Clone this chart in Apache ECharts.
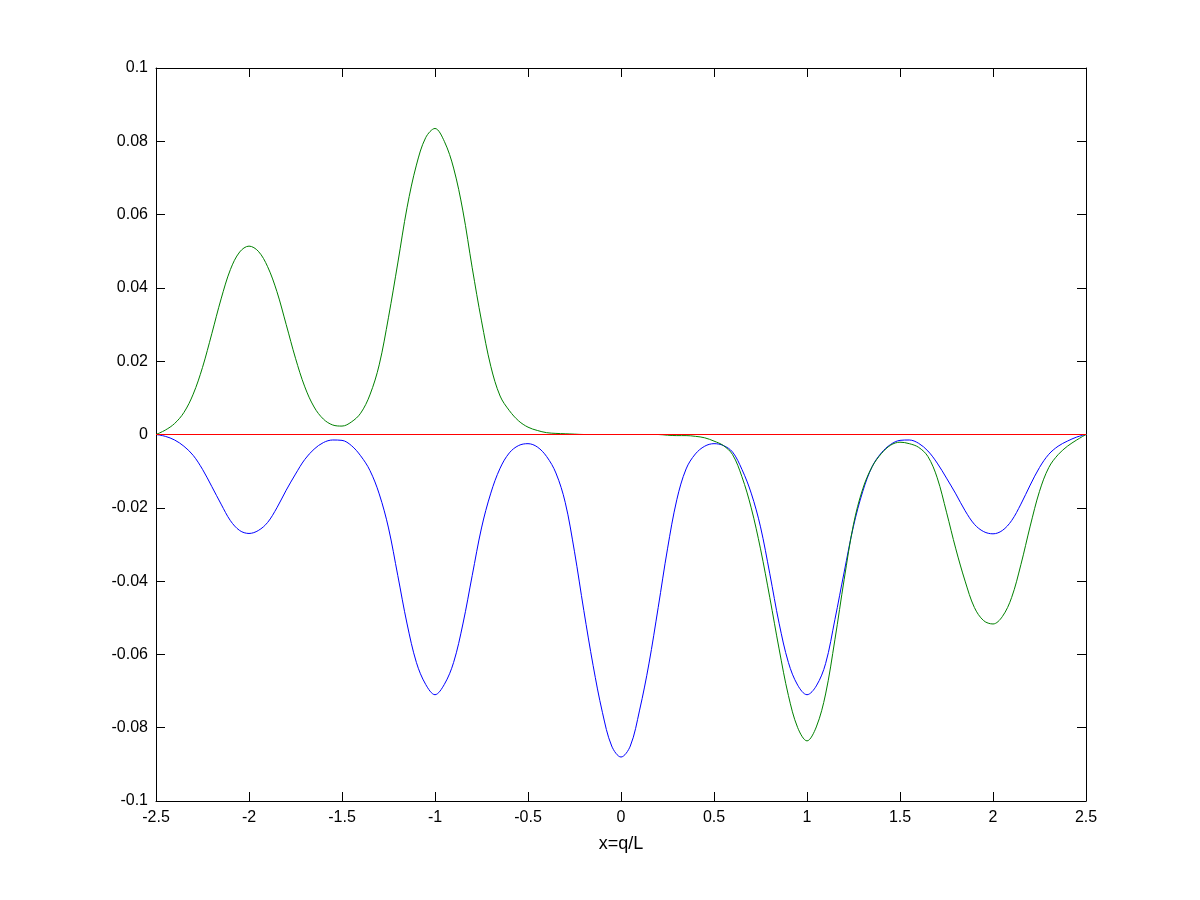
<!DOCTYPE html>
<html>
<head>
<meta charset="utf-8">
<script src="https://cdn.jsdelivr.net/npm/echarts@6/dist/echarts.min.js"></script>
<style>
html,body{margin:0;padding:0;background:#fff;}
#chart{width:1200px;height:900px;}
</style>
</head>
<body>
<div id="chart"></div>
<script>
// x positions (q/L)
const xs = [
-2.50,-2.45,-2.40,-2.35,-2.30,-2.25,-2.20,-2.15,-2.10,-2.05,
-2.00,-1.95,-1.90,-1.85,-1.80,-1.75,-1.70,-1.65,-1.60,-1.55,
-1.50,-1.45,-1.40,-1.35,-1.30,-1.25,-1.20,-1.15,-1.10,-1.05,
-1.00,-0.95,-0.90,-0.85,-0.80,-0.75,-0.70,-0.65,-0.60,-0.55,
-0.50,-0.45,-0.40,-0.35,-0.30,-0.25,-0.20,-0.15,-0.10,-0.05,
 0.00, 0.05, 0.10, 0.15, 0.20, 0.25, 0.30, 0.35, 0.40, 0.45,
 0.50, 0.55, 0.60, 0.65, 0.70, 0.75, 0.80, 0.85, 0.90, 0.95,
 1.00, 1.05, 1.10, 1.15, 1.20, 1.25, 1.30, 1.35, 1.40, 1.45,
 1.50, 1.55, 1.60, 1.65, 1.70, 1.75, 1.80, 1.85, 1.90, 1.95,
 2.00, 2.05, 2.10, 2.15, 2.20, 2.25, 2.30, 2.35, 2.40, 2.45,
 2.50
];

// blue curve
const blueY = [
 0.0000,-0.0005,-0.0015,-0.0032,-0.0057,-0.0095,-0.0142,-0.0190,-0.0235,-0.0262,
-0.0270,-0.0262,-0.0240,-0.0200,-0.0152,-0.0108,-0.0068,-0.0040,-0.0022,-0.0015,
-0.0016,-0.0030,-0.0058,-0.0098,-0.0162,-0.0255,-0.0385,-0.0517,-0.0622,-0.0682,
-0.0710,-0.0682,-0.0622,-0.0517,-0.0385,-0.0255,-0.0160,-0.0092,-0.0050,-0.0030,
-0.0025,-0.0034,-0.0060,-0.0105,-0.0185,-0.0320,-0.0480,-0.0630,-0.0758,-0.0850,
-0.0880,-0.0850,-0.0752,-0.0626,-0.0472,-0.0312,-0.0178,-0.0094,-0.0053,-0.0032,
-0.0025,-0.0030,-0.0048,-0.0095,-0.0160,-0.0252,-0.0380,-0.0515,-0.0622,-0.0684,
-0.0710,-0.0686,-0.0625,-0.0505,-0.0375,-0.0250,-0.0155,-0.0088,-0.0050,-0.0027,
-0.0016,-0.0015,-0.0024,-0.0045,-0.0078,-0.0119,-0.0162,-0.0208,-0.0245,-0.0265,
-0.0271,-0.0262,-0.0235,-0.0190,-0.0138,-0.0090,-0.0054,-0.0032,-0.0018,-0.0007,
 0.0000
];

// green curve
const greenY = [
 0.0000, 0.0012, 0.0030, 0.0060, 0.0110, 0.0183, 0.0275, 0.0370, 0.0450, 0.0498,
 0.0514, 0.0500, 0.0458, 0.0390, 0.0300, 0.0208, 0.0130, 0.0075, 0.0042, 0.0026,
 0.0023, 0.0034, 0.0058, 0.0108, 0.0190, 0.0320, 0.0468, 0.0620, 0.0735, 0.0810,
 0.0835, 0.0800, 0.0727, 0.0610, 0.0455, 0.0310, 0.0186, 0.0105, 0.0065, 0.0037,
 0.0020, 0.0011, 0.0005, 0.0003, 0.0002, 0.0001, 0.0000, 0.0000, 0.0000, 0.0000,
 0.0000, 0.0000, 0.0000, 0.0000, 0.0000,-0.0002,-0.0003,-0.0003,-0.0005,-0.0009,
-0.0018,-0.0030,-0.0055,-0.0115,-0.0200,-0.0312,-0.0445,-0.0585,-0.0712,-0.0800,
-0.0836,-0.0798,-0.0708,-0.0560,-0.0395,-0.0245,-0.0148,-0.0088,-0.0052,-0.0029,
-0.0021,-0.0025,-0.0035,-0.0060,-0.0118,-0.0212,-0.0312,-0.0400,-0.0472,-0.0508,
-0.0517,-0.0497,-0.0445,-0.0355,-0.0250,-0.0155,-0.0090,-0.0055,-0.0032,-0.0015,
 0.0000
];

// red curve
const redX = [-2.5, 2.5];
const redY = [0, 0];

const xTicks = { min: -2.5, max: 2.5, interval: 0.5 };
const yTicks = { min: -0.1, max: 0.1, interval: 0.02 };
const xName = 'x=q/L';

const FONT = "'Liberation Sans', Arial, Helvetica, sans-serif";
const pair = (xa, ya) => xa.map((x, i) => [x, ya[i]]);

const chart = echarts.init(document.getElementById('chart'), null, {renderer: 'canvas'});
const axisLine = { show: true, onZero: false, lineStyle: { color: '#000', width: 1 } };
const tick = { show: true, inside: true, length: 9, lineStyle: { color: '#000', width: 1 } };

chart.setOption({
  animation: false,
  backgroundColor: '#fff',
  grid: { left: 156, right: 114, top: 68, bottom: 99, containLabel: false },
  xAxis: [
    {
      type: 'value', position: 'bottom',
      min: xTicks.min, max: xTicks.max, interval: xTicks.interval,
      axisLine: axisLine, axisTick: tick, splitLine: { show: false },
      axisLabel: { color: '#000', fontSize: 16, fontFamily: FONT, margin: 9 },
      name: xName, nameLocation: 'middle', nameGap: 34,
      nameTextStyle: { color: '#000', fontSize: 18, fontFamily: FONT }
    },
    {
      type: 'value', position: 'top',
      min: xTicks.min, max: xTicks.max, interval: xTicks.interval,
      axisLine: axisLine, axisTick: tick, splitLine: { show: false },
      axisLabel: { show: false }
    }
  ],
  yAxis: [
    {
      type: 'value', position: 'left',
      min: yTicks.min, max: yTicks.max, interval: yTicks.interval,
      axisLine: axisLine, axisTick: tick, splitLine: { show: false },
      axisLabel: { color: '#000', fontSize: 16, fontFamily: FONT, margin: 8 }
    },
    {
      type: 'value', position: 'right',
      min: yTicks.min, max: yTicks.max, interval: yTicks.interval,
      axisLine: axisLine, axisTick: tick, splitLine: { show: false },
      axisLabel: { show: false }
    }
  ],
  series: [
    {
      type: 'line', data: pair(xs, blueY), xAxisIndex: 0, yAxisIndex: 0,
      showSymbol: false, smooth: 0.35, lineStyle: { color: '#0000ff', width: 1 },
      itemStyle: { color: '#0000ff' }
    },
    {
      type: 'line', data: pair(xs, greenY), xAxisIndex: 0, yAxisIndex: 0,
      showSymbol: false, smooth: 0.35, lineStyle: { color: '#008000', width: 1 },
      itemStyle: { color: '#008000' }
    },
    {
      type: 'line', data: pair(redX, redY), xAxisIndex: 0, yAxisIndex: 0,
      showSymbol: false, lineStyle: { color: '#ff0000', width: 1 },
      itemStyle: { color: '#ff0000' }
    }
  ]
});
</script>
</body>
</html>
